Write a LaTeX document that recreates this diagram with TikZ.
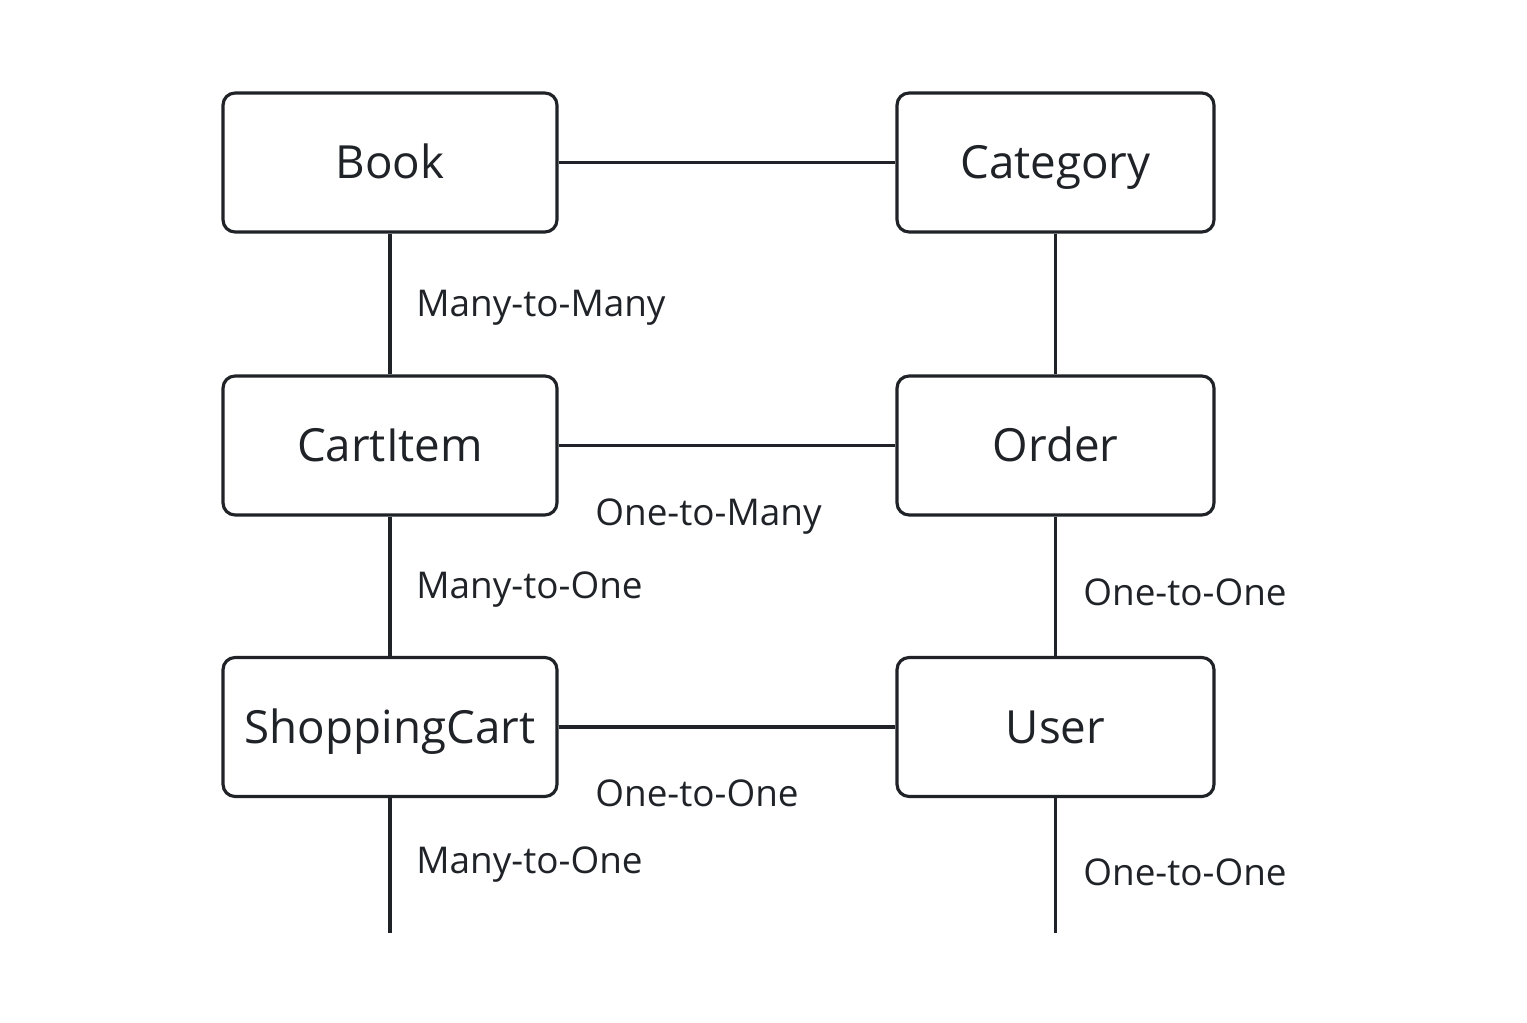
\documentclass[tikz,border=0pt]{standalone}
\usepackage{fontspec}
\setmainfont{Open Sans}
\definecolor{ink}{HTML}{1F2328}
\begin{document}
\begin{tikzpicture}[x=0.02cm,y=-0.02cm,
  box/.style={draw=ink, line width=1.8pt, rounded corners=0.24cm, fill=white,
    minimum height=2.78cm, font=\fontsize{26}{31}\selectfont, text=ink, inner sep=0pt,
    text height=18.5pt, text depth=0pt},
  leftbox/.style={box, minimum width=6.68cm},
  rightbox/.style={box, minimum width=6.34cm},
  conn/.style={draw=ink, line width=1.8pt},
  lbl/.style={anchor=base west, inner sep=0pt, font=\fontsize{21}{25}\selectfont, text=ink}]
\useasboundingbox (0,0) rectangle (1527,1023);
\node[leftbox] (book) at (390,162.5) {Book};
\node[rightbox] (cat) at (1055.5,162.5) {Category};
\node[leftbox] (cart) at (390,445.5) {CartItem};
\node[rightbox] (order) at (1055.5,445.5) {Order};
\node[leftbox] (sc) at (390,727) {ShoppingCart};
\node[rightbox] (user) at (1055.5,727) {User};
\coordinate (scend) at (390,933);
\coordinate (userend) at (1055.5,933);
\draw[conn] (book) -- (cat);
\draw[conn] (cart) -- (order);
\draw[conn] (sc) -- (user);
\draw[conn] (book) -- (cart);
\draw[conn] (cart) -- (sc);
\draw[conn] (cat) -- (order);
\draw[conn] (order) -- (user);
\draw[conn] (sc.south) -- (scend);
\draw[conn] (user.south) -- (userend);
\node[lbl] (l1) at (416,317) {Many-to-Many};
\node[lbl] (l2) at (595,525) {One-to-Many};
\node[lbl] (l3) at (416,598) {Many-to-One};
\node[lbl] (l4) at (1083,605) {One-to-One};
\node[lbl] (l5) at (595,806) {One-to-One};
\node[lbl] (l6) at (416,873) {Many-to-One};
\node[lbl] (l7) at (1083,885) {One-to-One};
\end{tikzpicture}
\end{document}
